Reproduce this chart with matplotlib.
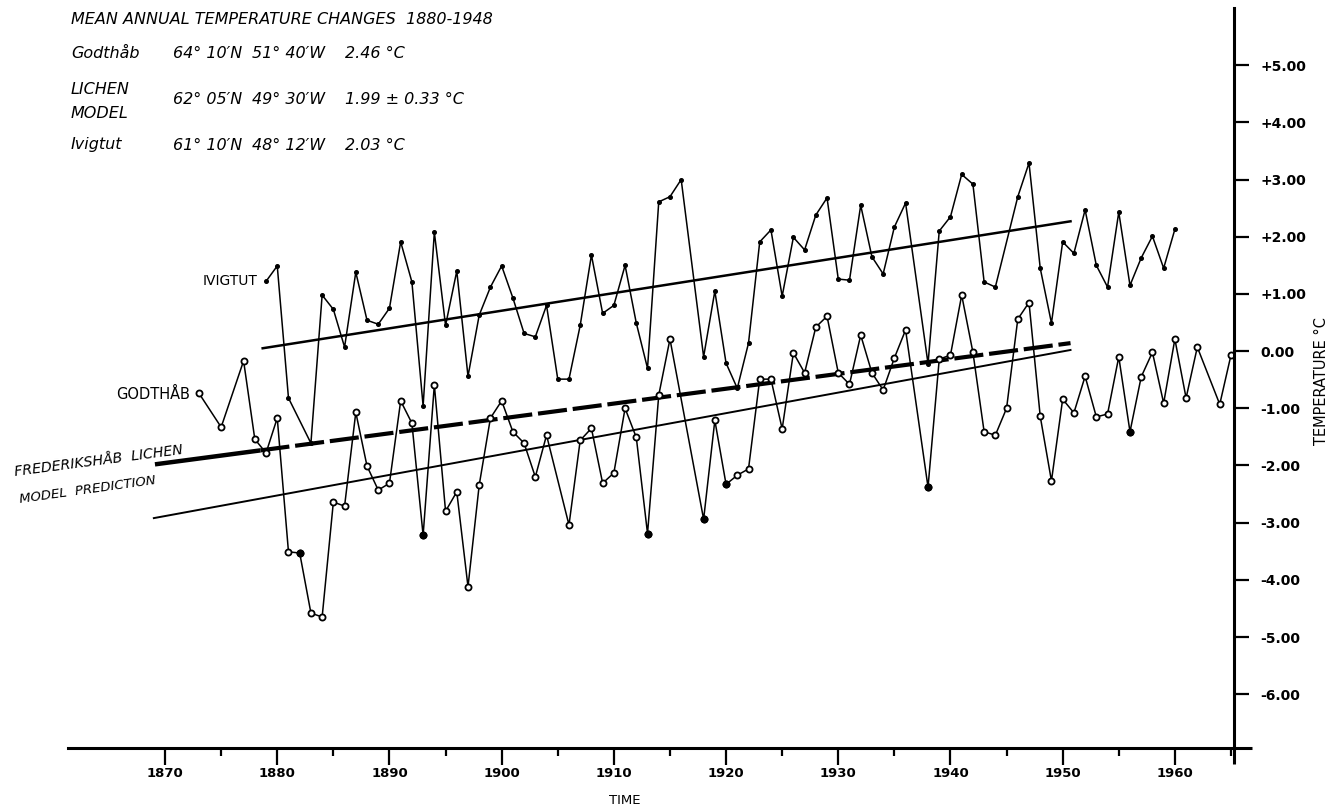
import numpy as np
import matplotlib.pyplot as plt

# Godthåb annual mean temperature (open circles)
godthab_years = [1873, 1875, 1877, 1878, 1879, 1880, 1881, 1882, 1883, 1884,
                 1885, 1886, 1887, 1888, 1889, 1890, 1891, 1892, 1893, 1894,
                 1895, 1896, 1897, 1898, 1899, 1900, 1901, 1902, 1903, 1904,
                 1906, 1907, 1908, 1909, 1910, 1911, 1912, 1913, 1914, 1915,
                 1918, 1919, 1920, 1921, 1922, 1923, 1924, 1925, 1926, 1927,
                 1928, 1929, 1930, 1931, 1932, 1933, 1934, 1935, 1936, 1938,
                 1939, 1940, 1941, 1942, 1943, 1944, 1945, 1946, 1947, 1948,
                 1949, 1950, 1951, 1952, 1953, 1954, 1955, 1956, 1957, 1958,
                 1959, 1960, 1961, 1962, 1964, 1965]
godthab_temp = [-0.73, -1.33, -0.17, -1.54, -1.78, -1.17, -3.51, -3.53, -4.58, -4.65,
                -2.64, -2.71, -1.07, -2.01, -2.43, -2.31, -0.87, -1.26, -3.22, -0.59,
                -2.80, -2.46, -4.12, -2.34, -1.17, -0.87, -1.41, -1.61, -2.20, -1.47,
                -3.04, -1.56, -1.35, -2.31, -2.13, -1.00, -1.51, -3.19, -0.77, 0.21,
                -2.94, -1.21, -2.33, -2.17, -2.06, -0.49, -0.49, -1.36, -0.03, -0.38,
                0.42, 0.61, -0.38, -0.58, 0.28, -0.38, -0.68, -0.12, 0.37, -2.38,
                -0.14, -0.07, 0.98, -0.02, -1.41, -1.47, -1.00, 0.56, 0.85, -1.14,
                -2.27, -0.84, -1.08, -0.44, -1.15, -1.10, -0.10, -1.41, -0.45, -0.02,
                -0.91, 0.21, -0.82, 0.07, -0.93, -0.07]
godthab_filled = [1882, 1893, 1913, 1918, 1920, 1938, 1956]

# Ivigtut annual mean temperature (small dots)
ivigtut_years = [1879, 1880, 1881, 1883, 1884, 1885, 1886, 1887, 1888, 1889,
                 1890, 1891, 1892, 1893, 1894, 1895, 1896, 1897, 1898, 1899,
                 1900, 1901, 1902, 1903, 1904, 1905, 1906, 1907, 1908, 1909,
                 1910, 1911, 1912, 1913, 1914, 1915, 1916, 1918, 1919, 1920,
                 1921, 1922, 1923, 1924, 1925, 1926, 1927, 1928, 1929, 1930,
                 1931, 1932, 1933, 1934, 1935, 1936, 1938, 1939, 1940, 1941,
                 1942, 1943, 1944, 1946, 1947, 1948, 1949, 1950, 1951, 1952,
                 1953, 1954, 1955, 1956, 1957, 1958, 1959, 1960]
ivigtut_temp = [1.22, 1.49, -0.82, -1.61, 0.98, 0.73, 0.07, 1.38, 0.54, 0.47,
                0.75, 1.91, 1.21, -0.96, 2.08, 0.45, 1.40, -0.44, 0.63, 1.12,
                1.49, 0.93, 0.31, 0.25, 0.80, -0.49, -0.49, 0.45, 1.68, 0.66,
                0.80, 1.50, 0.49, -0.30, 2.61, 2.70, 3.00, -0.10, 1.05, -0.21,
                -0.65, 0.14, 1.91, 2.12, 0.96, 1.99, 1.77, 2.38, 2.68, 1.26,
                1.24, 2.55, 1.65, 1.35, 2.17, 2.59, -0.22, 2.10, 2.35, 3.09,
                2.92, 1.21, 1.12, 2.70, 3.29, 1.45, 0.49, 1.91, 1.71, 2.47,
                1.50, 1.12, 2.43, 1.15, 1.63, 2.01, 1.45, 2.13]

# trend lines (end points)
ivig_trend_x = [1878.7, 1950.7]
ivig_trend_y = [0.05, 2.27]
lichen_x = [1869.1, 1950.7]
lichen_y = [-1.98, 0.14]
lichen_solid_until = 1878.5
lower_x = [1869.0, 1950.7]
lower_y = [-2.92, 0.02]

year_ticks = list(range(1870, 1961, 10))
year_minor = list(range(1875, 1966, 10))
temp_ticks = [5, 4, 3, 2, 1, 0, -1, -2, -3, -4, -5, -6]
temp_labels = ['+5.00', '+4.00', '+3.00', '+2.00', '+1.00', '0.00',
               '-1.00', '-2.00', '-3.00', '-4.00', '-5.00', '-6.00']

W, H = 1332, 810


def fx(x):
    return x / W


def fy(y):
    return 1 - y / H


fig = plt.figure(figsize=(W / 100, H / 100), dpi=100)
ax = fig.add_axes([fx(68), fy(748), (1234 - 68) / W, (748 - 8) / H])
xmin, xmax = 1861.35, 1965.27
ymin, ymax = -6.94, 6.0
ax.set_xlim(xmin, xmax)
ax.set_ylim(ymin, ymax)

for s in ['left', 'top']:
    ax.spines[s].set_visible(False)
for s in ['right', 'bottom']:
    ax.spines[s].set_linewidth(2.2)
# axis lines run a little past the corner
ax.plot([xmax, xmax + 1.6], [ymin, ymin], color='k', lw=2.2, clip_on=False,
        solid_capstyle='butt')
ax.plot([xmax, xmax], [ymin, ymin - 0.28], color='k', lw=2.2, clip_on=False,
        solid_capstyle='butt')

ax.yaxis.tick_right()
ax.set_yticks(temp_ticks)
ax.set_yticklabels(temp_labels, fontsize=10, fontweight='bold')
ax.tick_params(axis='y', direction='out', length=11, width=1.6, pad=8)

ax.set_xticks(year_ticks)
ax.set_xticklabels([str(y) for y in year_ticks], fontsize=9.5, fontweight='bold')
ax.set_xticks(year_minor, minor=True)
ax.tick_params(axis='x', which='major', direction='out', length=12, width=1.6, pad=2)
ax.tick_params(axis='x', which='minor', direction='out', length=6, width=1.6)

# trend lines
ax.plot(ivig_trend_x, ivig_trend_y, color='k', lw=1.8)
ax.plot(lower_x, lower_y, color='k', lw=1.4)
y_split = np.interp(lichen_solid_until, lichen_x, lichen_y)
ax.plot([lichen_x[0], lichen_solid_until], [lichen_y[0], y_split],
        color='k', lw=3.2, solid_capstyle='butt')
ax.plot([lichen_solid_until, lichen_x[1]], [y_split, lichen_y[1]],
        color='k', lw=3.0, dashes=(7, 1.4))

# series
ax.plot(ivigtut_years, ivigtut_temp, color='k', lw=1.1, marker='o', ms=2.6)
ax.plot(godthab_years, godthab_temp, color='k', lw=1.1, marker='o', ms=4.4,
        mfc='white', mec='k', mew=1.3)
filled = [t for y, t in zip(godthab_years, godthab_temp) if y in godthab_filled]
ax.plot(godthab_filled, filled, ls='none', marker='o', ms=4.6, color='k')

# header block
hdr = dict(fontsize=11.5, style='italic', va='center', ha='left')
fig.text(fx(71), fy(19), 'MEAN ANNUAL TEMPERATURE CHANGES  1880-1948', **hdr)
fig.text(fx(71), fy(54), 'Godthåb', **hdr)
fig.text(fx(173), fy(54), '64° 10′N', **hdr)
fig.text(fx(252), fy(54), '51° 40′W', **hdr)
fig.text(fx(345), fy(54), '2.46 °C', **hdr)
fig.text(fx(71), fy(89), 'LICHEN', **hdr)
fig.text(fx(71), fy(113), 'MODEL', **hdr)
fig.text(fx(173), fy(100), '62° 05′N', **hdr)
fig.text(fx(252), fy(100), '49° 30′W', **hdr)
fig.text(fx(345), fy(100), '1.99 ± 0.33 °C', **hdr)
fig.text(fx(71), fy(145), 'Ivigtut', **hdr)
fig.text(fx(173), fy(145), '61° 10′N', **hdr)
fig.text(fx(252), fy(145), '48° 12′W', **hdr)
fig.text(fx(345), fy(145), '2.03 °C', **hdr)

# series labels
fig.text(fx(258), fy(281), 'IVIGTUT', fontsize=10, ha='right', va='center')
fig.text(fx(190), fy(394), 'GODTHÅB', fontsize=10.5, ha='right', va='center')
fig.text(fx(99), fy(461), 'FREDERIKSHÅB  LICHEN', fontsize=10.2, style='italic',
         rotation=7.5, ha='center', va='center', rotation_mode='anchor')
fig.text(fx(88), fy(490), 'MODEL  PREDICTION', fontsize=9.5, style='italic',
         rotation=8, ha='center', va='center', rotation_mode='anchor')

# axis titles
fig.text(fx(625), fy(800), 'TIME', fontsize=9.5, ha='center', va='center')
fig.text(fx(1321), fy(381), 'TEMPERATURE °C', fontsize=10.5, rotation=90,
         ha='center', va='center')

fig.savefig('out.png', dpi=100)
